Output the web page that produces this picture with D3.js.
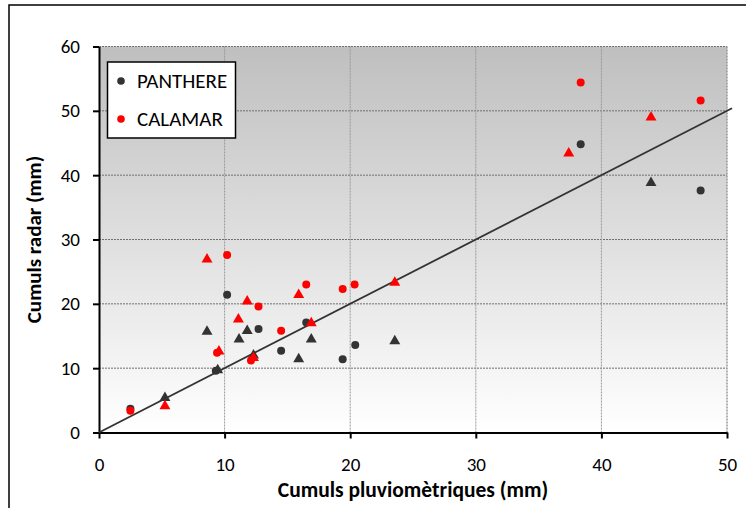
<!DOCTYPE html>
<html>
<head>
<meta charset="utf-8">
<script src="https://cdn.jsdelivr.net/npm/d3@7"></script>
<style>
  body { margin: 0; background: #fff; }
  text { font-family: Carlito, Calibri, Lato, sans-serif; }
</style>
</head>
<body>
<script>
// circles (legend series)
const pantX = [2.5, 9.3, 10.2, 12.7, 14.5, 16.5, 19.4, 20.4, 38.35, 47.9];
const pantY = [3.7, 9.6, 21.4, 16.1, 12.7, 17.1, 11.4, 13.6, 44.8, 37.6];
const calX = [2.5, 9.4, 10.2, 12.1, 12.7, 14.5, 16.5, 19.4, 20.35, 38.35, 47.9];
const calY = [3.4, 12.4, 27.6, 11.2, 19.6, 15.8, 23.0, 22.3, 23.0, 54.4, 51.6];
// triangles
const pantTriX = [5.25, 8.6, 9.45, 11.15, 11.8, 12.3, 15.9, 16.9, 23.55, 43.95];
const pantTriY = [5.4, 15.7, 9.7, 14.5, 15.8, 12.0, 11.4, 14.5, 14.2, 38.8];
const calTriX = [5.25, 8.6, 9.55, 11.1, 11.8, 12.3, 15.9, 16.9, 23.55, 37.4, 43.95];
const calTriY = [4.1, 26.9, 12.6, 17.6, 20.4, 11.6, 21.4, 17.0, 23.3, 43.4, 49.0];
// 1:1 line
const lineX = [0, 50.4];
const lineY = [0, 50.4];

const xTicks = [0, 10, 20, 30, 40, 50];
const yTicks = [0, 10, 20, 30, 40, 50, 60];
const legendNames = ['PANTHERE', 'CALAMAR'];

const width = 746, height = 508;
const dark = '#333333', red = '#ff0000';

var svg = d3.select('body').append('svg')
    .attr('width', width)
    .attr('height', height);

// chart frame (runs off the picture on right and bottom)
svg.append('rect')
    .attr('x', 9).attr('y', 5)
    .attr('width', 780).attr('height', 540)
    .attr('fill', '#fff')
    .attr('stroke', '#000')
    .attr('stroke-width', 1.5);

var x = d3.scaleLinear().domain([0, 50]).range([99, 727]);
var y = d3.scaleLinear().domain([0, 60]).range([432.5, 46.5]);

var defs = svg.append('defs');
var grad = defs.append('linearGradient')
    .attr('id', 'plot-bg')
    .attr('x1', 0).attr('y1', 0).attr('x2', 0).attr('y2', 1);
grad.append('stop').attr('offset', '0%').attr('stop-color', '#bfbfbf');
grad.append('stop').attr('offset', '100%').attr('stop-color', '#ffffff');

svg.append('rect')
    .attr('x', x(0)).attr('y', y(60))
    .attr('width', x(50) - x(0)).attr('height', y(0) - y(60))
    .attr('fill', 'url(#plot-bg)');

// grid
svg.append('g').selectAll('line')
    .data(yTicks.slice(1))
  .enter().append('line')
    .attr('x1', x(0)).attr('x2', x(50))
    .attr('y1', d => y(d)).attr('y2', d => y(d))
    .attr('stroke', '#6f6f6f')
    .attr('stroke-width', 1)
    .attr('stroke-dasharray', '2,1');

svg.append('g').selectAll('line')
    .data(xTicks.slice(1))
  .enter().append('line')
    .attr('x1', d => x(d)).attr('x2', d => x(d))
    .attr('y1', y(0)).attr('y2', y(60))
    .attr('stroke', '#999')
    .attr('stroke-width', d => d == 50 ? 1.5 : 1)
    .attr('stroke-dasharray', '2,1');

// axes
var xAxis = svg.append('g')
    .attr('transform', `translate(0,${y(0)})`)
    .call(d3.axisBottom(x).tickValues(xTicks).tickSize(6).tickSizeOuter(0).tickPadding(19));
var yAxis = svg.append('g')
    .attr('transform', `translate(${x(0)},0)`)
    .call(d3.axisLeft(y).tickValues(yTicks).tickSize(6).tickSizeOuter(0).tickPadding(13));

[xAxis, yAxis].forEach(a => {
  a.select('.domain').attr('stroke', '#000').attr('stroke-width', 2);
  a.selectAll('.tick line').attr('stroke', '#000').attr('stroke-width', 2);
  a.selectAll('.tick text')
      .attr('fill', '#000')
      .style('font-size', '19px');
});

// 1:1 line
svg.append('path')
    .datum(lineX.map((v, i) => [v, lineY[i]]))
    .attr('d', d3.line().x(d => x(d[0])).y(d => y(d[1])))
    .attr('fill', 'none')
    .attr('stroke', dark)
    .attr('stroke-width', 1.8);

var tri = d3.symbol().type(d3.symbolTriangle).size(52);

function triangles(xs, ys, color) {
  svg.append('g').selectAll('path')
      .data(xs.map((v, i) => [v, ys[i]]))
    .enter().append('path')
      .attr('d', tri)
      .attr('transform', d => `translate(${x(d[0])},${y(d[1])})`)
      .attr('fill', color);
}

function circles(xs, ys, color) {
  svg.append('g').selectAll('circle')
      .data(xs.map((v, i) => [v, ys[i]]))
    .enter().append('circle')
      .attr('cx', d => x(d[0]))
      .attr('cy', d => y(d[1]))
      .attr('r', 4)
      .attr('fill', color);
}

triangles(pantTriX, pantTriY, dark);
circles(pantX, pantY, dark);
triangles(calTriX, calTriY, red);
circles(calX, calY, red);

// legend
var legend = svg.append('g');
legend.append('rect')
    .attr('x', 107.5).attr('y', 62)
    .attr('width', 128).attr('height', 76)
    .attr('fill', '#fff')
    .attr('stroke', '#000')
    .attr('stroke-width', 1.5);

var item = legend.selectAll('g')
    .data(legendNames)
  .enter().append('g')
    .attr('transform', (d, i) => `translate(121,${81 + i * 38})`);
item.append('circle')
    .attr('r', 3.8)
    .attr('fill', (d, i) => i == 0 ? dark : red);
item.append('text')
    .attr('x', 16)
    .attr('dy', '0.35em')
    .style('font-size', '21px')
    .text(d => d);

// axis titles
svg.append('text')
    .attr('x', (x(0) + x(50)) / 2)
    .attr('y', 497)
    .attr('text-anchor', 'middle')
    .style('font-size', '21.5px')
    .style('font-weight', 'bold')
    .text('Cumuls pluviomètriques (mm)');

svg.append('text')
    .attr('transform', `translate(41,${(y(0) + y(60)) / 2}) rotate(-90)`)
    .attr('text-anchor', 'middle')
    .style('font-size', '21px')
    .style('font-weight', 'bold')
    .text('Cumuls radar (mm)');
</script>
</body>
</html>
